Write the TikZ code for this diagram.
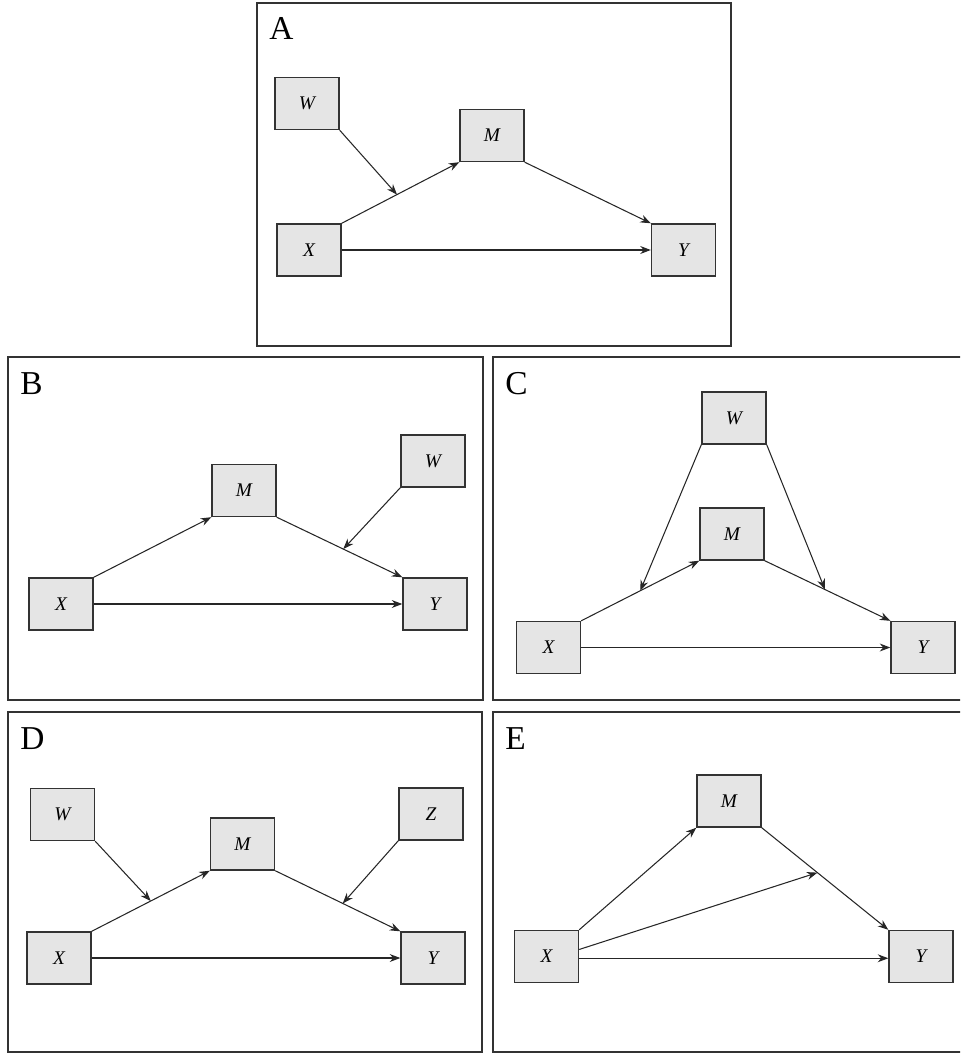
\documentclass[tikz,border=0pt]{standalone}
\usepackage{fontspec}
\setmainfont{Liberation Serif}
\usetikzlibrary{calc,arrows.meta}

\tikzset{
  var/.style={draw=black!80, fill=black!10, line width=0.8pt, minimum width=1.28cm,
    minimum height=1.04cm, inner sep=0pt, font=\fontsize{11}{13}\selectfont\itshape},
  eff/.style={-{Stealth[length=6pt,width=4.5pt]}, draw=black!85, line width=0.6pt},
  panel/.style={draw=black!80, line width=0.8pt},
  letter/.style={anchor=base west, inner sep=0pt, font=\fontsize{19}{20}\selectfont}
}

\begin{document}
\begin{tikzpicture}[x=0.02cm, y=-0.02cm]
  \useasboundingbox (0,0) rectangle (960,1054);
  \clip (0,0) rectangle (960,1054);
  % frames of the five panels
  \foreach \xa/\ya/\xb/\yb/\l in {257/3/731/346/A, 8/357/483/700/B, 493/357/975/700/C,
                                   8/712/482/1052/D, 493/712/975/1052/E}
  {
    \draw[panel] (\xa,\ya) rectangle (\xb,\yb);
    \node[letter] (l\l) at (\xa+12,\ya+37) {\l};
  }

  % panel A
  \node[var] (aW) at (307,103.5) {W};
  \node[var] (aM) at (492,135.5) {M};
  \node[var] (aX) at (309,250) {X};
  \node[var] (aY) at (683.5,250) {Y};
  \coordinate (aXM) at ($(aX.north east)!0.47!(aM.south west)$);
  \draw[eff] (aX.north east) -- (aM.south west);
  \draw[eff] (aM.south east) -- (aY.north west);
  \draw[eff] (aX) -- (aY);
  \draw[eff] (aW.south east) -- (aXM);

  % panel B
  \node[var] (bM) at (244,490.5) {M};
  \node[var] (bW) at (433,461) {W};
  \node[var] (bX) at (61,604) {X};
  \node[var] (bY) at (435,604) {Y};
  \coordinate (bMY) at ($(bM.south east)!0.53!(bY.north west)$);
  \draw[eff] (bX.north east) -- (bM.south west);
  \draw[eff] (bM.south east) -- (bY.north west);
  \draw[eff] (bX) -- (bY);
  \draw[eff] (bW.south west) -- (bMY);

  % panel C
  \node[var] (cW) at (734,418) {W};
  \node[var] (cM) at (732,534) {M};
  \node[var] (cX) at (548.5,647.5) {X};
  \node[var] (cY) at (923,647.5) {Y};
  \coordinate (cXM) at ($(cX.north east)!0.5!(cM.south west)$);
  \coordinate (cMY) at ($(cM.south east)!0.48!(cY.north west)$);
  \draw[eff] (cX.north east) -- (cM.south west);
  \draw[eff] (cM.south east) -- (cY.north west);
  \draw[eff] (cX) -- (cY);
  \draw[eff] (cW.south west) -- (cXM);
  \draw[eff] (cW.south east) -- (cMY);

  % panel D
  \node[var] (dW) at (62.5,814.5) {W};
  \node[var] (dM) at (242.5,844) {M};
  \node[var] (dZ) at (431,814) {Z};
  \node[var] (dX) at (59,958) {X};
  \node[var] (dY) at (433,958) {Y};
  \coordinate (dXM) at ($(dX.north east)!0.5!(dM.south west)$);
  \coordinate (dMY) at ($(dM.south east)!0.54!(dY.north west)$);
  \draw[eff] (dX.north east) -- (dM.south west);
  \draw[eff] (dM.south east) -- (dY.north west);
  \draw[eff] (dX) -- (dY);
  \draw[eff] (dW.south east) -- (dXM);
  \draw[eff] (dZ.south west) -- (dMY);

  % panel E
  \node[var] (eM) at (729,801) {M};
  \node[var] (eX) at (546.5,956.5) {X};
  \node[var] (eY) at (921,956.5) {Y};
  \coordinate (eMY) at ($(eM.south east)!0.44!(eY.north west)$);
  \draw[eff] (eX.north east) -- (eM.south west);
  \draw[eff] (eM.south east) -- (eY.north west);
  \draw[eff] ([yshift=-1pt]eX.east) -- ([yshift=-1pt]eY.west);
  \draw[eff] ([yshift=4pt]eX.east) -- (eMY);
\end{tikzpicture}
\end{document}
